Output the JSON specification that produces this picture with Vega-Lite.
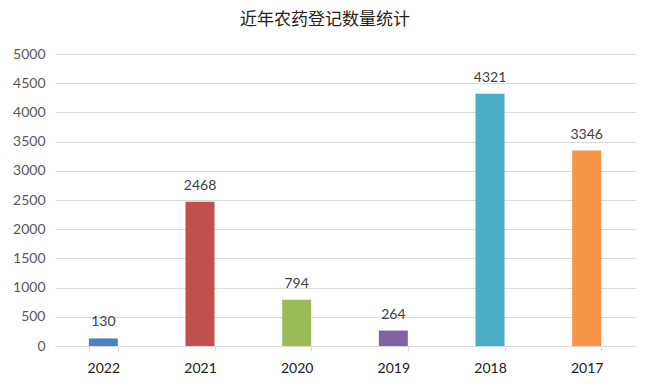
{
  "$schema": "https://vega.github.io/schema/vega-lite/v6.json",
  "width": 580,
  "height": 292,
  "autosize": {"type": "none"},
  "padding": {"left": 55, "top": 54, "right": 15, "bottom": 41},
  "background": "white",
  "title": {
    "text": "近年农药登记数量统计",
    "font": "Noto Sans CJK SC",
    "fontSize": 17,
    "fontWeight": "normal",
    "color": "#222222",
    "anchor": "middle",
    "dx": -20,
    "offset": 18
  },
  "data": {
    "values": [
      {"year": "2022", "count": 130},
      {"year": "2021", "count": 2468},
      {"year": "2020", "count": 794},
      {"year": "2019", "count": 264},
      {"year": "2018", "count": 4321},
      {"year": "2017", "count": 3346}
    ]
  },
  "encoding": {
    "x": {
      "field": "year",
      "type": "nominal",
      "sort": null,
      "scale": {"paddingInner": 0.7, "paddingOuter": 0.35},
      "axis": {
        "title": null,
        "labelAngle": 0,
        "labelFont": "Lato",
        "labelFontSize": 14,
        "labelColor": "#202020",
        "labelPadding": 10,
        "domainColor": "#D9D9D9",
        "tickColor": "#D9D9D9",
        "tickBand": "extent",
        "tickSize": 5,
        "grid": false
      }
    },
    "y": {
      "field": "count",
      "type": "quantitative",
      "scale": {"domain": [0, 5000], "nice": false},
      "axis": {
        "title": null,
        "format": "d",
        "values": [0, 500, 1000, 1500, 2000, 2500, 3000, 3500, 4000, 4500, 5000],
        "labelFont": "Lato",
        "labelFontSize": 14,
        "labelColor": "#595959",
        "labelPadding": 10,
        "domain": false,
        "ticks": false,
        "gridColor": "#D9D9D9",
        "gridWidth": 1
      }
    }
  },
  "layer": [
    {
      "mark": {"type": "bar"},
      "encoding": {
        "color": {
          "field": "year",
          "type": "nominal",
          "sort": null,
          "legend": null,
          "scale": {
            "domain": ["2022", "2021", "2020", "2019", "2018", "2017"],
            "range": ["#4F81BD", "#C0504D", "#9BBB59", "#8064A2", "#4BACC6", "#F79646"]
          }
        }
      }
    },
    {
      "mark": {"type": "text", "dy": -16, "font": "Lato", "fontSize": 14, "color": "#404040"},
      "encoding": {"text": {"field": "count", "type": "quantitative"}}
    }
  ],
  "config": {"view": {"stroke": null}}
}
